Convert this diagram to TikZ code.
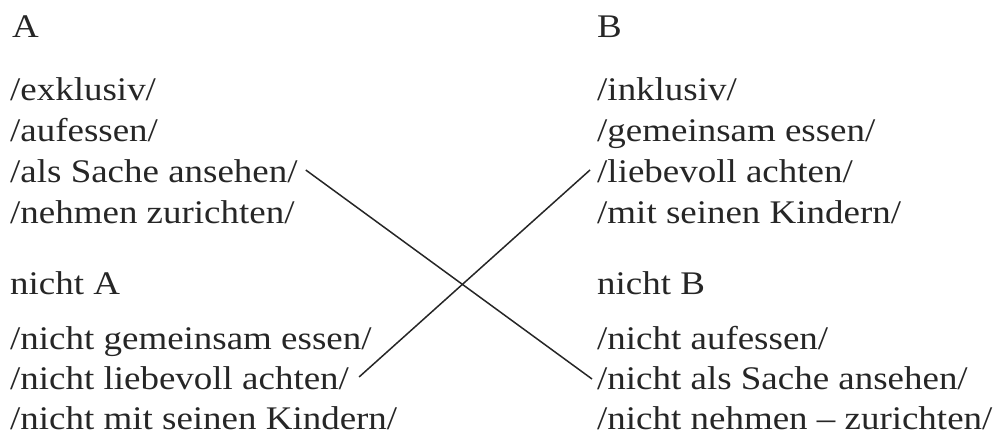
\documentclass[tikz,border=0pt]{standalone}
\usepackage{fontspec}
\setmainfont{Liberation Serif}[FakeStretch=1.12]
\definecolor{ink}{HTML}{262626}
\begin{document}
\begin{tikzpicture}[x=1pt,y=-1pt,
  txt/.style={anchor=base west,inner sep=0pt,text=ink,font=\fontsize{33}{38}\selectfont},
  cross/.style={draw=ink,line width=1.5pt}]
\useasboundingbox (0,0) rectangle (999,438);
% left column
\node[txt] (A) at (12,38) {A};
\node[txt] (l1) at (10,101) {/exklusiv/};
\node[txt] (l2) at (10,142) {/aufessen/};
\node[txt] (l3) at (10,183) {/als Sache ansehen/};
\node[txt] (l4) at (10,224) {/nehmen zurichten/};
\node[txt] (nA) at (10,295) {nicht A};
\node[txt] (l5) at (10,349) {/nicht gemeinsam essen/};
\node[txt] (l6) at (10,389) {/nicht liebevoll achten/};
\node[txt] (l7) at (10,429) {/nicht mit seinen Kindern/};
% right column
\node[txt] (B) at (597,38) {B};
\node[txt] (r1) at (597,101) {/inklusiv/};
\node[txt] (r2) at (597,142) {/gemeinsam essen/};
\node[txt] (r3) at (597,183) {/liebevoll achten/};
\node[txt] (r4) at (597,224) {/mit seinen Kindern/};
\node[txt] (nB) at (597,295) {nicht B};
\node[txt] (r5) at (597,349) {/nicht aufessen/};
\node[txt] (r6) at (597,389) {/nicht als Sache ansehen/};
\node[txt] (r7) at (597,429) {/nicht nehmen – zurichten/};
% crossing connectors
\draw[cross] ([xshift=8pt,yshift=13pt]l3.base east) -- ([xshift=-5pt,yshift=10pt]r6.base west);
\draw[cross] ([xshift=10pt,yshift=12pt]l6.base east) -- ([xshift=-7pt,yshift=13pt]r3.base west);
\end{tikzpicture}
\end{document}
